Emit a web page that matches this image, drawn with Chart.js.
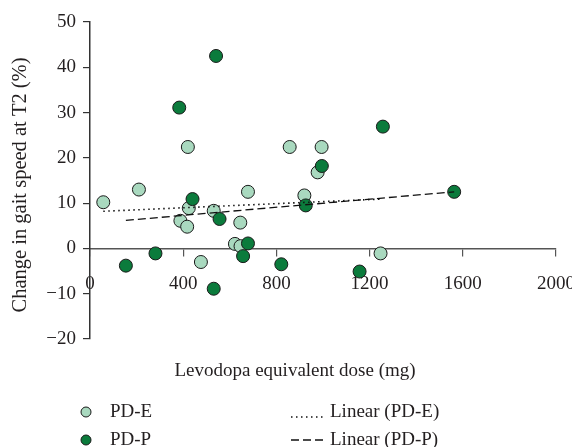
<!DOCTYPE html>
<html>
<head>
<meta charset="utf-8">
<script src="https://cdn.jsdelivr.net/npm/chart.js@4.4.1/dist/chart.umd.min.js"></script>
<style>
  html, body { margin: 0; padding: 0; background: #fff; }
  #wrap { width: 572px; height: 447px; }
</style>
</head>
<body>
<div id="wrap"><canvas id="gaitChart"></canvas></div>
<script>
    // --- DATA ---
    const doseE  = [57, 210, 420, 857, 994, 977, 678, 920, 424, 388, 417, 531, 645, 622, 646, 476, 1247];
    const speedE = [10.2, 13.0, 22.4, 22.4, 22.4, 16.8, 12.5, 11.7, 8.9, 6.1, 4.8, 8.3, 5.7, 1.0, 0.5, -3.0, -1.1];
    const doseP  = [541, 383, 1257, 995, 1563, 440, 556, 926, 678, 657, 281, 154, 531, 821, 1157];
    const speedP = [42.5, 31.1, 26.9, 18.2, 12.5, 10.9, 6.5, 9.5, 1.1, -1.7, -1.1, -3.8, -8.9, -3.5, -5.1];
    const trendEDose  = [57, 1247];
    const trendESpeed = [8.2, 10.9];
    const trendPDose  = [154, 1563];
    const trendPSpeed = [6.2, 12.5];
    const xTicks = [0, 400, 800, 1200, 1600, 2000];
    const yTicks = [-20, -10, 0, 10, 20, 30, 40, 50];

    const FONT = '19px "Liberation Serif", "Times New Roman", serif';
    const INK = '#231f20';
    const LIGHT = '#a9d9bf';
    const DARK = '#0b7b3c';

    const pts = (xs, ys) => xs.map((x, i) => ({ x: x, y: ys[i] }));
    const minus = v => (v < 0 ? '\u2212' + Math.abs(v) : '' + v);

    // --- TITLES + LEGEND (drawn by hand, 2x2 layout) ---
    const extras = {
        id: 'extras',
        afterDraw(chart) {
            const c = chart.ctx;
            const ds = chart.data.datasets;
            c.save();
            c.font = FONT;
            c.fillStyle = INK;
            c.textBaseline = 'middle';
            c.textAlign = 'center';
            c.fillText('Levodopa equivalent dose (mg)', 295, 371);

            c.save();
            c.font = '20.5px "Liberation Serif", "Times New Roman", serif';
            c.translate(21, 185);
            c.rotate(-Math.PI / 2);
            c.fillText('Change in gait speed at T2 (%)', 0, 0);
            c.restore();

            c.textAlign = 'left';
            // markers
            [ds[3], ds[2]].forEach((d, i) => {
                const y = 412 + i * 28;
                c.beginPath();
                c.arc(86, y, 5, 0, Math.PI * 2);
                c.fillStyle = d.backgroundColor;
                c.fill();
                c.lineWidth = 1;
                c.strokeStyle = '#1a1a1a';
                c.stroke();
                c.fillStyle = INK;
                c.fillText(d.label, 110, y);
            });
            // trend lines
            [ds[0], ds[1]].forEach((d, i) => {
                const y = 412 + i * 28;
                c.beginPath();
                c.setLineDash(d.borderDash);
                c.lineWidth = d.borderWidth;
                c.strokeStyle = d.borderColor;
                c.moveTo(291, i === 0 ? y + 5 : y);
                c.lineTo(325, i === 0 ? y + 5 : y);
                c.stroke();
                c.setLineDash([]);
                c.fillStyle = INK;
                c.fillText(d.label, 330, y);
            });
            c.restore();
        }
    };

    const ctx = document.getElementById('gaitChart').getContext('2d');
    const gaitChart = new Chart(ctx, {
        type: 'scatter',
        data: {
            datasets: [
                {
                    label: 'Linear (PD-E)',
                    type: 'line',
                    data: pts(trendEDose, trendESpeed),
                    borderColor: '#111',
                    borderWidth: 1.6,
                    borderDash: [1.5, 3.5],
                    pointRadius: 0,
                    fill: false,
                    order: 0
                },
                {
                    label: 'Linear (PD-P)',
                    type: 'line',
                    data: pts(trendPDose, trendPSpeed),
                    borderColor: '#111',
                    borderWidth: 1.3,
                    borderDash: [8, 4],
                    pointRadius: 0,
                    fill: false,
                    order: 1
                },
                {
                    label: 'PD-P',
                    data: pts(doseP, speedP),
                    backgroundColor: DARK,
                    borderColor: '#1a1a1a',
                    borderWidth: 1,
                    pointRadius: 6.5,
                    order: 2
                },
                {
                    label: 'PD-E',
                    data: pts(doseE, speedE),
                    backgroundColor: LIGHT,
                    borderColor: '#1a1a1a',
                    borderWidth: 1,
                    pointRadius: 6.5,
                    order: 3
                }
            ]
        },
        options: {
            responsive: true,
            maintainAspectRatio: false,
            animation: false,
            layout: { padding: { left: 0, top: 22, right: 16, bottom: 108 } },
            plugins: { legend: { display: false }, tooltip: { enabled: false } },
            scales: {
                x: {
                    type: 'linear',
                    position: { y: 0 },
                    min: xTicks[0],
                    max: xTicks[xTicks.length - 1],
                    afterBuildTicks: s => { s.ticks = xTicks.map(v => ({ value: v })); },
                    afterFit: s => { s.paddingLeft = 0; s.paddingRight = 0; },
                    grid: { drawOnChartArea: false, drawTicks: true, tickLength: 7, color: '#555', lineWidth: 1.2 },
                    border: { display: true, color: '#555', width: 1.5 },
                    ticks: { font: { family: '"Liberation Serif", serif', size: 19 }, color: INK, padding: 17, maxRotation: 0, callback: v => '' + v }
                },
                y: {
                    type: 'linear',
                    min: yTicks[0],
                    max: yTicks[yTicks.length - 1],
                    afterBuildTicks: s => { s.ticks = yTicks.map(v => ({ value: v })); },
                    afterFit: s => { s.width = 90; s.paddingTop = 0; s.paddingBottom = 0; },
                    grid: { drawOnChartArea: false, drawTicks: true, tickLength: 7, color: '#333', lineWidth: 1.2 },
                    border: { display: true, color: '#333', width: 1.5 },
                    ticks: { font: { family: '"Liberation Serif", serif', size: 19 }, color: INK, padding: 7, callback: v => minus(v) }
                }
            }
        },
        plugins: [extras]
    });
</script>
</body>
</html>
